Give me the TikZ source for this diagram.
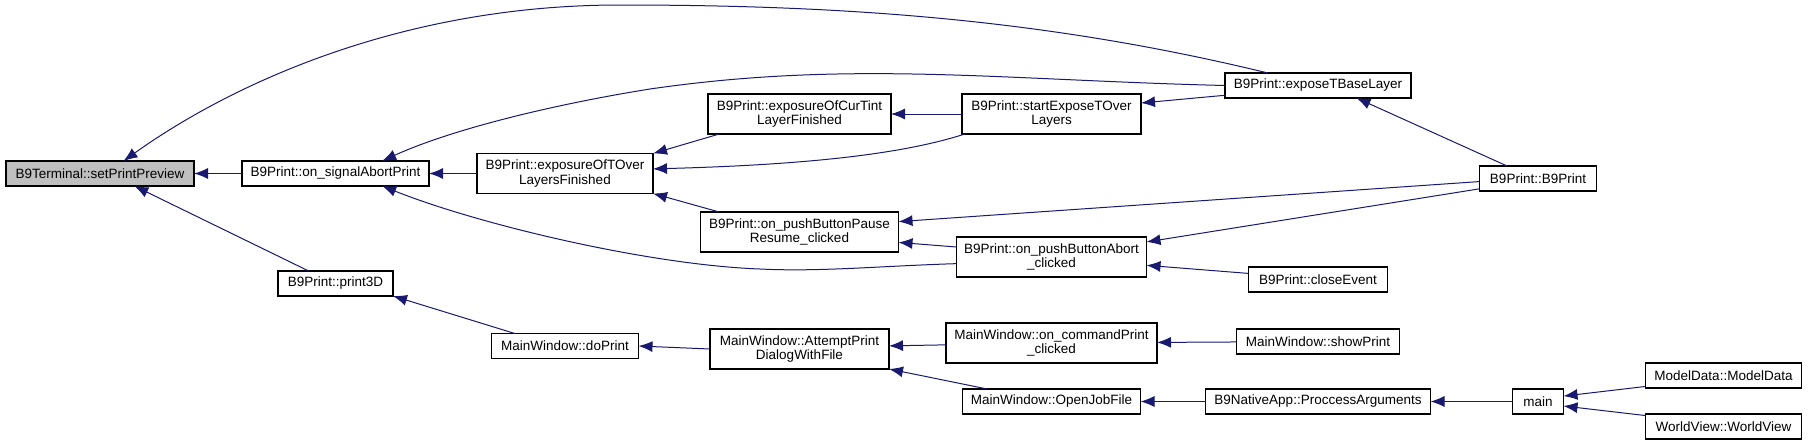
\documentclass[tikz,border=0pt]{standalone}
\usepackage{fontspec}
\setmainfont{Liberation Sans}
\usepackage{xcolor}
\usetikzlibrary{arrows.meta,positioning}
\definecolor{edgeblue}{HTML}{191970}
\definecolor{rootgray}{HTML}{BFBFBF}

\begin{document}
\begin{tikzpicture}[
    x=1pt, y=-1pt,
    fn/.style={draw=black, rectangle, fill=white, line width=1.1pt, inner xsep=6pt, inner ysep=2pt, outer sep=0pt, minimum height=25pt, align=center, font=\fontsize{13.5}{14.7}\selectfont},
    fn2/.style={fn, minimum height=40pt},
    root/.style={fn, fill=rootgray},
    arrow/.style={-{Latex[length=14pt, width=11pt]}, draw=edgeblue, line width=1pt}
]
    \useasboundingbox (0,0) rectangle (1808,445);

    % Callee and first callers
    \node [root, minimum width=188pt] (set_preview) at (100,173.5) {B9Terminal::setPrintPreview};
    \node [fn, minimum width=187pt, right=48pt of set_preview] (sig_abort) {B9Print::on\_signalAbortPrint};
    \node [fn, minimum width=115pt, below=85pt of sig_abort] (print_3d) {B9Print::print3D};

    % Third column
    \node [fn2, minimum width=176pt, right=48pt of sig_abort] (exp_tover) {B9Print::exposureOfTOver\\LayersFinished};
    \node [fn, minimum width=147pt, below=140pt of exp_tover] (do_print) {MainWindow::doPrint};

    % Fourth column
    \node [fn2, minimum width=183pt, right=55pt of exp_tover, yshift=59.5pt] (cur_tint) {B9Print::exposureOfCurTint\\LayerFinished};
    \node [fn2, minimum width=198pt, below=78pt of cur_tint] (pause_btn) {B9Print::on\_pushButtonPause\\Resume\_clicked};
    \node [fn2, minimum width=179pt, below=77pt of pause_btn] (attempt_print) {MainWindow::AttemptPrint\\DialogWithFile};

    % Fifth column
    \node [fn2, minimum width=179pt, right=71pt of cur_tint] (start_exp) {B9Print::startExposeTOver\\Layers};
    \node [fn2, minimum width=190pt, below=103pt of start_exp] (abort_btn) {B9Print::on\_pushButtonAbort\\\_clicked};
    \node [fn2, minimum width=211pt, below=46pt of abort_btn] (cmd_print) {MainWindow::on\_commandPrint\\\_clicked};
    \node [fn, minimum width=178pt, below=26pt of cmd_print] (open_job) {MainWindow::OpenJobFile};

    % Sixth column
    \node [fn, minimum width=186pt, right=84pt of start_exp, yshift=28.5pt] (expose_base) {B9Print::exposeTBaseLayer};
    \node [fn, minimum width=139pt, below=169pt of expose_base] (close_ev) {B9Print::closeEvent};
    \node [fn, minimum width=163pt, below=37pt of close_ev] (show_print) {MainWindow::showPrint};
    \node [fn, minimum width=225pt, right=65pt of open_job] (proc_args) {B9NativeApp::ProccessArguments};

    % Last columns
    \node [fn, minimum width=51pt, right=82pt of proc_args] (main_fn) {main};
    \node [fn, minimum width=117pt, above=198pt of main_fn] (b9_print) {B9Print::B9Print};
    \node [fn, minimum width=156pt, right=82pt of main_fn, yshift=26pt] (model_data) {ModelData::ModelData};
    \node [fn, minimum width=156pt, below=26pt of model_data] (world_view) {WorldView::WorldView};

    % Connections
    \draw [arrow] (sig_abort) -- (set_preview);
    \draw [arrow] (print_3d.155) -- (set_preview.-20);
    \draw [arrow] (expose_base.166) .. controls (1050,20) and (850,5) .. (620,5) .. controls (400,5) and (230,85) .. (set_preview.28);

    \draw [arrow] (exp_tover) -- (sig_abort);
    \draw [arrow] (expose_base.west) .. controls (1000,80) and (850,60) .. (650,89) .. controls (550,105) and (450,130) .. (sig_abort.15);
    \draw [arrow] (abort_btn.184) .. controls (880,266) and (820,272) .. (760,269) .. controls (650,265) and (480,225) .. (sig_abort.345);
    \draw [arrow] (do_print.166) -- (print_3d.south east);

    \draw [arrow] (cur_tint.194) -- (exp_tover.north east);
    \draw [arrow] (start_exp.193) .. controls (900,155) and (800,165) .. (exp_tover.3);
    \draw [arrow] (pause_btn.166) -- (exp_tover.south east);
    \draw [arrow] (attempt_print.west) -- (do_print.east);

    \draw [arrow] (start_exp) -- (cur_tint);
    \draw [arrow] (b9_print.183) -- (pause_btn.6);
    \draw [arrow] (abort_btn.174) -- (pause_btn.-6);
    \draw [arrow] (cmd_print.181) -- (attempt_print.2);
    \draw [arrow] (open_job.169) -- (attempt_print.south east);

    \draw [arrow] (expose_base.186) -- (start_exp.7);
    \draw [arrow] (b9_print.190) -- (abort_btn.9);
    \draw [arrow] (close_ev.175) -- (abort_btn.-5);
    \draw [arrow] (show_print) -- (cmd_print);
    \draw [arrow] (proc_args) -- (open_job);

    \draw [arrow] (b9_print.158) -- (expose_base.-18);
    \draw [arrow] (main_fn) -- (proc_args);
    \draw [arrow] (model_data.188) -- (main_fn.12);
    \draw [arrow] (world_view.172) -- (main_fn.-10);

\end{tikzpicture}
\end{document}
